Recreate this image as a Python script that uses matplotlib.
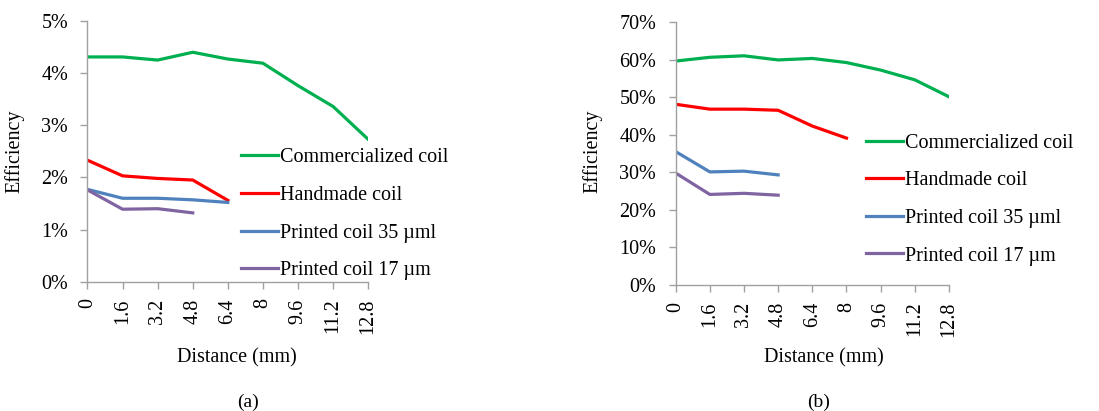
import numpy as np
import matplotlib.pyplot as plt
from matplotlib.ticker import FuncFormatter

plt.rcParams['font.family'] = ['Liberation Serif', 'DejaVu Serif']

distance = [0, 1.6, 3.2, 4.8, 6.4, 8, 9.6, 11.2, 12.8]
labels = ["Commercialized coil", "Handmade coil", "Printed coil 35 \u00b5ml", "Printed coil 17 \u00b5m"]
colors = ["#00B050", "#FF0000", "#4F81BD", "#8064A2"]

# (a) efficiency in %
comm_a = [4.31, 4.31, 4.25, 4.40, 4.27, 4.19, 3.76, 3.36, 2.73]
hand_a = [2.33, 2.03, 1.98, 1.95, 1.56]
p35_a = [1.77, 1.60, 1.60, 1.57, 1.52]
p17_a = [1.76, 1.39, 1.40, 1.32]

# (b) efficiency in %
comm_b = [59.6, 60.6, 61.0, 59.9, 60.3, 59.2, 57.2, 54.6, 50.1]
hand_b = [48.1, 46.8, 46.8, 46.5, 42.3, 39.1]
p35_b = [35.5, 30.1, 30.3, 29.3]
p17_b = [29.8, 24.1, 24.4, 23.9]

fig = plt.figure(figsize=(10.99, 4.11), dpi=100)
ax1 = fig.add_axes([0.0796, 0.3146, 0.2554, 0.6344])
ax2 = fig.add_axes([0.6148, 0.3066, 0.2487, 0.6399])

fs = 14.5


def draw(ax, series, ymax, ystep, leg_anchor, ylab_x, xlab_x, cap):
    for vals, c, lab in zip(series, colors, labels):
        ax.plot(distance[:len(vals)], vals, color=c, lw=2.3, label=lab)
    ax.set_xlim(0, 12.8)
    ax.set_ylim(0, ymax)
    ax.set_xticks(distance)
    ax.set_xticklabels([f"{d:g}" for d in distance], rotation=90)
    ax.set_yticks(np.arange(0, ymax + ystep / 2, ystep))
    ax.yaxis.set_major_formatter(FuncFormatter(lambda v, p: f"{v:.0f}%"))
    for s in ['top', 'right']:
        ax.spines[s].set_visible(False)
    for s in ['left', 'bottom']:
        ax.spines[s].set_color('#a0a0a0')
        ax.spines[s].set_linewidth(1)
    ax.tick_params(colors='#a0a0a0', labelcolor='black', labelsize=fs, length=5, width=1)
    ax.tick_params(axis='x', pad=7)
    ax.tick_params(axis='y', pad=9)
    ax.set_xlabel("Distance (mm)", fontsize=fs)
    ax.set_ylabel("Efficiency", fontsize=fs)
    ax.yaxis.set_label_coords(ylab_x, 0.632, transform=fig.transFigure)
    ax.xaxis.set_label_coords(xlab_x, 0.153, transform=fig.transFigure)
    ax.legend(loc='upper left', bbox_to_anchor=leg_anchor, bbox_transform=fig.transFigure,
              frameon=False, fontsize=fs, handlelength=1.84, handletextpad=0.1,
              labelspacing=0.92, borderpad=0, borderaxespad=0)
    fig.text(cap[0], 0.02, cap[1], fontsize=fs - 0.5, ha='center', va='center')


draw(ax1, [comm_a, hand_a, p35_a, p17_a], 5, 1, (0.2193, 0.639), 0.022, 0.2157, (0.2257, "(a)"))
draw(ax2, [comm_b, hand_b, p35_b, p17_b], 70, 10, (0.7877, 0.675), 0.548, 0.75, (0.745, "(b)"))

fig.savefig("out.png", dpi=100)
